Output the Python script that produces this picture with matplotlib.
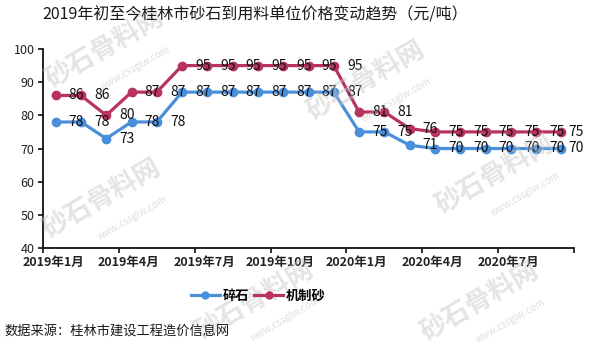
import matplotlib
matplotlib.use("Agg")
import matplotlib.pyplot as plt
import numpy as np
from matplotlib.lines import Line2D
from matplotlib.transforms import ScaledTranslation

plt.rcParams['font.family'] = ['Noto Sans CJK SC', 'DejaVu Sans']

# ---- data ----
months = ["2019-01", "2019-02", "2019-03", "2019-04", "2019-05", "2019-06",
          "2019-07", "2019-08", "2019-09", "2019-10", "2019-11", "2019-12",
          "2020-01", "2020-02", "2020-03", "2020-04", "2020-05", "2020-06",
          "2020-07", "2020-08", "2020-09"]
crushed_stone = [78, 78, 73, 78, 78, 87, 87, 87, 87, 87, 87, 87,
                 75, 75, 71, 70, 70, 70, 70, 70, 70]
machine_sand = [86, 86, 80, 87, 87, 95, 95, 95, 95, 95, 95, 95,
                81, 81, 76, 75, 75, 75, 75, 75, 75]
series_names = ["碎石", "机制砂"]
xtick_labels = ["2019年1月", "2019年4月", "2019年7月", "2019年10月",
                "2020年1月", "2020年4月", "2020年7月", ""]
yticks = [40, 50, 60, 70, 80, 90, 100]
title = "2019年初至今桂林市砂石到用料单位价格变动趋势（元/吨）"
source = "数据来源：桂林市建设工程造价信息网"
watermark_big = "砂石骨料网"
watermark_small = "www.cssglw.com"

blue = "#4A8FDA"
red = "#B8335E"

fig = plt.figure(figsize=(6.0, 3.49), dpi=100)

# watermarks (behind everything)
wm_big_pos = [(0.175, 0.86), (0.61, 0.77), (0.17, 0.43), (0.825, 0.50),
              (0.425, 0.14), (0.80, 0.135)]
for (x, y) in wm_big_pos:
    fig.text(x, y, watermark_big, fontsize=19, fontweight='bold', color='#c4c4c4',
             alpha=0.45, rotation=30, ha='center', va='center', zorder=0)
    fig.text(x + 0.05, y - 0.055, watermark_small, fontsize=7, color='#c4c4c4',
             alpha=0.55, rotation=30, ha='center', va='center', zorder=0)

ax = fig.add_axes([43/600, 1-248/349, (574-43)/600, (248-49)/349])
ax.patch.set_alpha(0)

x = np.arange(len(months)) + 0.5
ax.plot(x, crushed_stone, color=blue, lw=2.3, marker='o', ms=6, zorder=3,
        solid_joinstyle='round')
ax.plot(x, machine_sand, color=red, lw=2.3, marker='o', ms=6, zorder=3,
        solid_joinstyle='round')

last = len(months) - 1
for series in (crushed_stone, machine_sand):
    for i, v in enumerate(series):
        dx = 5 if i == last else 9.5
        ax.annotate(f"{v}", (x[i], v), xytext=(dx, 0), textcoords='offset points',
                    ha='left', va='center', fontsize=10, color='#111111', zorder=5,
                    annotation_clip=False)

ax.set_xlim(0, len(months))
ax.set_ylim(40, 100)
ax.set_xticks(np.arange(0, len(months) + 1, 3))
ax.set_xticklabels(xtick_labels, fontsize=9, fontweight='bold')
ax.set_yticks(yticks)
ax.set_yticklabels([str(t) for t in yticks], fontsize=9)
for s in ('top', 'right'):
    ax.spines[s].set_visible(False)
for s in ('left', 'bottom'):
    ax.spines[s].set_linewidth(1.3)
    ax.spines[s].set_color('#111111')
ax.tick_params(axis='both', direction='out', length=3.5, width=1.2, color='#111111',
               labelcolor='#222222', pad=2.5)
shift = ScaledTranslation(10/100, 0, fig.dpi_scale_trans)
for lab in ax.get_xticklabels():
    lab.set_transform(lab.get_transform() + shift)

handles = [Line2D([], [], color=blue, lw=2.3, marker='o', ms=5),
           Line2D([], [], color=red, lw=2.3, marker='o', ms=5)]
fig.legend(handles, series_names, loc='center', bbox_to_anchor=(258/600, 1-296/349),
           ncol=2, frameon=False, handlelength=2.2, handletextpad=0.2,
           columnspacing=0.4, prop={'weight': 'bold', 'size': 9.5})

fig.text(255/600, 1-15/349, title, ha='center', va='center', fontsize=11.5,
         color='#1a1a1a')
fig.text(4/600, 1-331/349, source, ha='left', va='center', fontsize=9.5,
         color='#1a1a1a')

fig.savefig("out.png", dpi=100)
